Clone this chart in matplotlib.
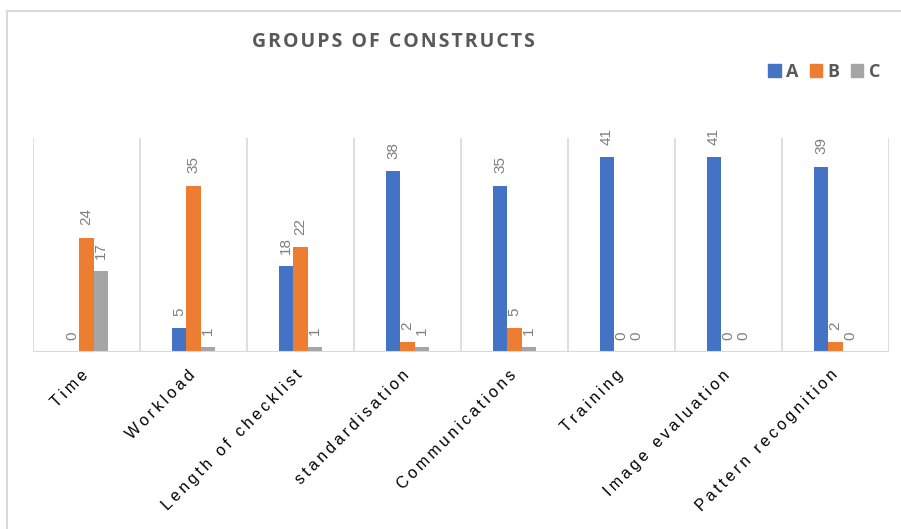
import numpy as np
import matplotlib
matplotlib.use('Agg')
import matplotlib.pyplot as plt
import matplotlib.transforms as mtransforms
from matplotlib.lines import Line2D
from matplotlib.patches import Patch

# data
categories = ['Time', 'Workload', 'Length of checklist', 'standardisation',
              'Communications', 'Training', 'Image evaluation', 'Pattern recognition']
series_a = [0, 5, 18, 38, 35, 41, 41, 39]
series_b = [24, 35, 22, 2, 5, 0, 0, 2]
series_c = [17, 1, 1, 1, 1, 0, 0, 0]
series_names = ['A', 'B', 'C']
colors = ['#4472C4', '#ED7D31', '#A5A5A5']


def spaced(s, sp='\u200a'):
    # fake letter spacing like the Excel chart
    return sp.join(s)


fig = plt.figure(figsize=(9.01, 5.29), dpi=100)
W, H = 901, 529

# chart area border (left and top)
fig.add_artist(Line2D([7 / W, 7 / W], [0, 1 - 11 / H], color='#d9d9d9', lw=1.5))
fig.add_artist(Line2D([7 / W, 1], [1 - 11 / H, 1 - 11 / H], color='#d9d9d9', lw=1.5))

ax = fig.add_axes([33 / W, 1 - 352 / H, (889 - 33) / W, (352 - 138) / H])

x = np.arange(len(categories))
w = 0.135
for i, (vals, name) in enumerate(zip([series_a, series_b, series_c], series_names)):
    pos = x + (i - 1) * w
    ax.bar(pos, vals, w, color=colors[i], label=name, zorder=3)
    for xp, v in zip(pos, vals):
        ax.annotate(str(v), (xp, v), xytext=(0, 9), textcoords='offset points',
                    rotation=90, ha='center', va='bottom', fontsize=11,
                    color='#7f7f7f', family='Liberation Sans')

ax.set_xlim(-0.5, len(categories) - 0.5)
ax.set_ylim(0, 45)
for s in ax.spines.values():
    s.set_visible(False)
ax.set_yticks([])
# category separators
for b in np.arange(-0.5, len(categories), 1):
    ax.axvline(b, color='#d9d9d9', lw=1.2, zorder=1)
ax.axhline(0, color='#d9d9d9', lw=1.5, zorder=4)

ax.set_xticks(x)
ax.set_xticklabels([spaced(c, '\u2009') for c in categories], rotation=45, ha='right',
                   rotation_mode='anchor', fontsize=11.5,
                   family=['Liberation Sans', 'DejaVu Sans'])
ax.tick_params(axis='x', length=0, pad=11)
shift = mtransforms.ScaledTranslation(-6 / 100, 0, fig.dpi_scale_trans)
for lbl in ax.get_xticklabels():
    lbl.set_transform(lbl.get_transform() + shift)

fig.text(393 / W, 1 - 42 / H, spaced('GROUPS OF CONSTRUCTS'), ha='center', va='center',
         fontsize=14, fontweight='bold', color='#595959', family=['Open Sans', 'DejaVu Sans'])

handles = [Patch(color=c) for c in colors]
leg = fig.legend(handles, series_names, loc='center right', bbox_to_anchor=(880 / W, 1 - 72 / H),
                 ncol=3, frameon=False, handlelength=0.7, handleheight=0.7,
                 handletextpad=0.3, columnspacing=0.6, borderpad=0, borderaxespad=0,
                 prop={'family': 'Open Sans', 'weight': 'bold', 'size': 13})
for t in leg.get_texts():
    t.set_color('#595959')

fig.savefig('out.png', dpi=100)
